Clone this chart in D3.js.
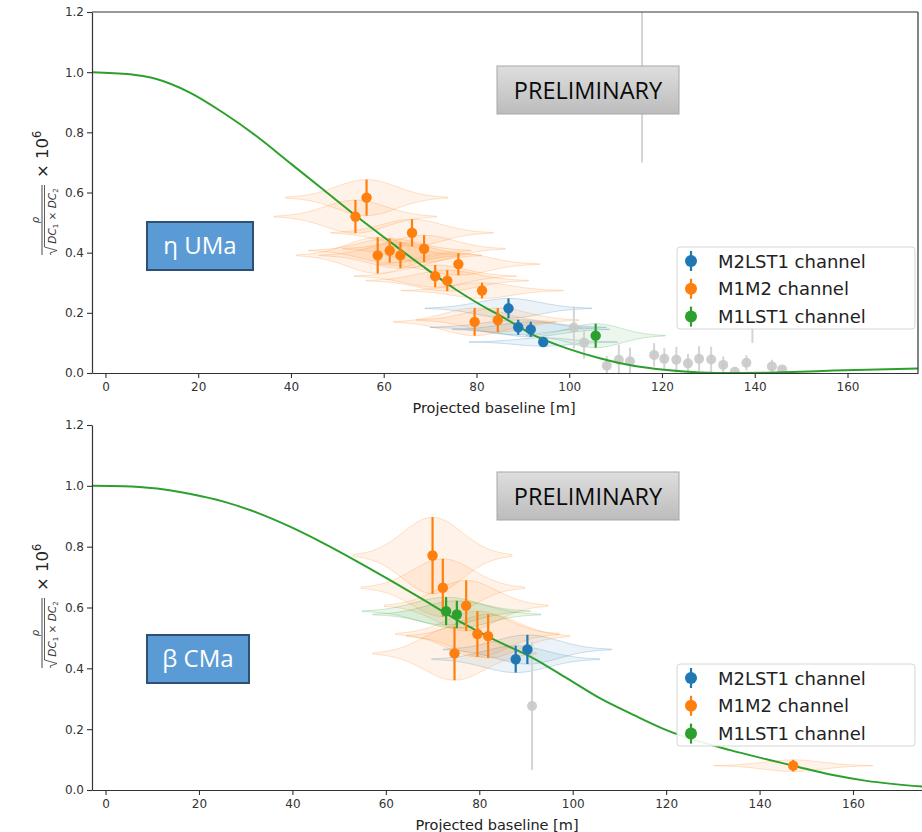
<!DOCTYPE html>
<html>
<head>
<meta charset="utf-8">
<script src="https://cdn.jsdelivr.net/npm/d3@7"></script>
<style>
  body { margin: 0; background: #fff; }
  svg text { font-family: "DejaVu Sans", sans-serif; }
</style>
</head>
<body>
<svg id="chart" width="922" height="832"></svg>
<script>
// ---- data ----
const xTicks = [0, 20, 40, 60, 80, 100, 120, 140, 160];
const yTicks = [0, 0.2, 0.4, 0.6, 0.8, 1.0, 1.2];
const legendLabels = ["M2LST1 channel", "M1M2 channel", "M1LST1 channel"];
const starNames = ["η UMa", "β CMa"];

// [baseline m, value, error, half span of the baseline band]
const etaM2LST1 = [[86.9, 0.215, 0.033, 18], [89.0, 0.152, 0.025, 19], [91.7, 0.145, 0.025, 17], [94.4, 0.103, 0.014, 16]];
const etaM1M2 = [
  [53.9, 0.520, 0.055, 17.5], [56.3, 0.583, 0.060, 17.5], [58.7, 0.391, 0.060, 17.5],
  [61.3, 0.407, 0.040, 17.5], [63.6, 0.391, 0.043, 17.5], [66.1, 0.466, 0.045, 17.5],
  [68.7, 0.413, 0.045, 17.5], [71.1, 0.322, 0.037, 17.5], [73.7, 0.307, 0.035, 17.5],
  [76.1, 0.362, 0.037, 17.5], [79.6, 0.170, 0.046, 17.5], [81.2, 0.274, 0.026, 17.5],
  [84.6, 0.176, 0.040, 17.5]
];
const etaM1LST1 = [[105.7, 0.124, 0.040, 15]];
// rejected points (grey), no band
const etaRejected = [
  [101.0, 0.151, 0.070], [103.2, 0.101, 0.053], [108.1, 0.024, 0.033], [110.7, 0.044, 0.050],
  [113.1, 0.039, 0.045], [115.7, 1.500, 0.800], [118.3, 0.060, 0.039], [120.5, 0.047, 0.036],
  [123.1, 0.044, 0.043], [125.6, 0.032, 0.031], [128.0, 0.047, 0.042], [130.6, 0.045, 0.042],
  [133.2, 0.027, 0.028], [135.7, 0.004, 0.013], [138.2, 0.034, 0.025], [139.5, 0.200, 0.100],
  [143.7, 0.022, 0.022], [145.9, 0.012, 0.012]
];
const etaFit = [
  [-2.9, 1.0], [5.3, 0.993], [11, 0.977], [18.2, 0.932], [25.4, 0.865], [32.6, 0.787],
  [39.8, 0.698], [47, 0.609], [54.2, 0.52], [61.3, 0.437], [68.5, 0.354], [75.7, 0.276],
  [82.9, 0.209], [85.1, 0.191], [92.3, 0.126], [99.5, 0.082], [106.6, 0.049], [113.8, 0.024],
  [121, 0.010], [128.2, 0.002], [135.4, 0.0], [142.6, 0.001], [149.8, 0.004], [157, 0.008],
  [164.1, 0.011], [175.2, 0.015]
];

const betaM2LST1 = [[87.8, 0.430, 0.044, 18], [90.3, 0.462, 0.048, 18]];
const betaM1M2 = [
  [70.0, 0.771, 0.126, 17], [72.2, 0.665, 0.095, 17.5], [74.7, 0.449, 0.088, 17.5],
  [77.2, 0.606, 0.083, 17.5], [79.6, 0.513, 0.075, 17.5], [81.9, 0.506, 0.072, 17.5],
  [147.2, 0.080, 0.019, 17]
];
const betaM1LST1 = [[72.9, 0.588, 0.046, 18], [75.2, 0.577, 0.045, 18]];
const betaRejected = [[91.3, 0.276, 0.210]];
const betaFit = [
  [-2.9, 1.0], [3.9, 0.999], [11, 0.991], [18.2, 0.973], [25.3, 0.948], [32.4, 0.912],
  [39.6, 0.865], [46.7, 0.811], [53.8, 0.752], [60.9, 0.690], [68.1, 0.625], [75.2, 0.559],
  [82.3, 0.501], [91.6, 0.433], [98.8, 0.367], [105.9, 0.301], [113, 0.247], [120.2, 0.196],
  [133.7, 0.131], [141.5, 0.101], [147.2, 0.080], [155.7, 0.049], [162.9, 0.030], [175.2, 0.011]
];

const colors = { blue: "#1f77b4", orange: "#ff7f0e", green: "#2ca02c", grey: "#c9c9c9" };

const svg = d3.select("#chart");

// gradient for the PRELIMINARY stamp
const defs = svg.append("defs");
const grad = defs.append("linearGradient").attr("id", "prelim").attr("x1", 0).attr("y1", 0).attr("x2", 0).attr("y2", 1);
grad.append("stop").attr("offset", "0%").attr("stop-color", "#dedede");
grad.append("stop").attr("offset", "100%").attr("stop-color", "#bcbcbc");

function drawPanel(p) {
  const x = d3.scaleLinear().domain([-2.9, 175.2]).range([92, p.right]);
  const y = d3.scaleLinear().domain([0, 1.2]).range([p.bottom, p.top]);
  const g = svg.append("g");

  defs.append("clipPath").attr("id", "clip" + p.id)
    .append("rect").attr("x", 92).attr("y", p.top).attr("width", p.right - 92).attr("height", p.bottom - p.top);
  const plot = g.append("g").attr("clip-path", "url(#clip" + p.id + ")");

  // baseline bands (lens shaped, thickness = error at the middle)
  const prof = d3.range(-1, 1.0001, 0.04);
  const band = (d) => d3.area()
    .x(t => x(d[0] + t * d[3]))
    .y0(t => y(d[1] - d[2] * Math.exp(-Math.pow(t * 1.9, 2))))
    .y1(t => y(d[1] + d[2] * Math.exp(-Math.pow(t * 1.9, 2))))
    .curve(d3.curveBasis)(prof);

  p.series.forEach(s => {
    plot.append("g").selectAll("path").data(s.data).join("path")
      .attr("d", band)
      .attr("fill", s.color).attr("fill-opacity", 0.09)
      .attr("stroke", s.color).attr("stroke-opacity", 0.22).attr("stroke-width", 1);
  });

  // rejected points
  const rej = plot.append("g");
  rej.selectAll("line").data(p.rejected).join("line")
    .attr("x1", d => x(d[0])).attr("x2", d => x(d[0]))
    .attr("y1", d => y(d[1] - d[2])).attr("y2", d => y(d[1] + d[2]))
    .attr("stroke", "#d4d4d4").attr("stroke-width", 2);
  rej.selectAll("circle").data(p.rejected).join("circle")
    .attr("cx", d => x(d[0])).attr("cy", d => y(d[1])).attr("r", 5)
    .attr("fill", colors.grey).attr("fill-opacity", 0.9);

  // fitted visibility curve
  plot.append("path").datum(p.fit)
    .attr("d", d3.line().x(d => x(d[0])).y(d => y(d[1])).curve(d3.curveMonotoneX))
    .attr("fill", "none").attr("stroke", colors.green).attr("stroke-width", 2);

  // measured points with error bars
  p.series.forEach(s => {
    const sg = plot.append("g");
    sg.selectAll("line").data(s.data).join("line")
      .attr("x1", d => x(d[0])).attr("x2", d => x(d[0]))
      .attr("y1", d => y(d[1] - d[2])).attr("y2", d => y(d[1] + d[2]))
      .attr("stroke", s.color).attr("stroke-width", 2.2);
    sg.selectAll("circle").data(s.data).join("circle")
      .attr("cx", d => x(d[0])).attr("cy", d => y(d[1])).attr("r", 5.2)
      .attr("fill", s.color);
  });

  // axes
  const xa = g.append("g").attr("transform", "translate(0," + p.bottom + ")")
    .call(d3.axisBottom(x).tickValues(xTicks).tickSize(5).tickSizeOuter(0).tickPadding(4));
  const ya = g.append("g").attr("transform", "translate(92,0)")
    .call(d3.axisLeft(y).tickValues(yTicks).tickFormat(d3.format(".1f")).tickSize(5).tickSizeOuter(0).tickPadding(3));
  [xa, ya].forEach(a => {
    a.selectAll("path.domain").attr("stroke", "#333").attr("stroke-width", 1.2);
    a.selectAll(".tick line").attr("stroke", "#333").attr("stroke-width", 1.1);
    a.selectAll(".tick text").attr("fill", "#333").style("font-size", "12px").style("font-family", "DejaVu Sans");
  });
  if (p.frame) {
    g.append("line").attr("x1", 92).attr("x2", p.right).attr("y1", p.top).attr("y2", p.top).attr("stroke", "#333").attr("stroke-width", 1.2);
    g.append("line").attr("x1", p.right).attr("x2", p.right).attr("y1", p.top).attr("y2", p.bottom).attr("stroke", "#333").attr("stroke-width", 1.2);
  }

  g.append("text").attr("x", p.xLabelX).attr("y", p.bottom + 40)
    .attr("text-anchor", "middle").attr("fill", "#222").style("font-size", "14.5px")
    .text("Projected baseline [m]");

  // y label: rho / sqrt(DC1 x DC2) x 10^6
  const yl = g.append("g").attr("transform", "translate(42," + p.labelY + ") rotate(-90)");
  yl.append("line").attr("x1", -35).attr("x2", 35).attr("y1", 0).attr("y2", 0).attr("stroke", "#333").attr("stroke-width", 0.9);
  yl.append("text").attr("x", 0).attr("y", -3).attr("text-anchor", "middle")
    .attr("fill", "#333").style("font-size", "10px").style("font-style", "italic").text("ρ");
  yl.append("path").attr("d", "M-35,9 L-33,8 L-30.5,15 L-27,2.5 L35,2.5")
    .attr("fill", "none").attr("stroke", "#333").attr("stroke-width", 0.8);
  const den = yl.append("text").attr("x", 4).attr("y", 13.5).attr("text-anchor", "middle")
    .attr("fill", "#333").style("font-size", "10.5px");
  den.append("tspan").style("font-style", "italic").text("DC");
  den.append("tspan").style("font-size", "7px").attr("dy", 2).text("1");
  den.append("tspan").attr("dy", -2).text(" × ");
  den.append("tspan").style("font-style", "italic").text("DC");
  den.append("tspan").style("font-size", "7px").attr("dy", 2).text("2");
  const mult = yl.append("text").attr("x", 42).attr("y", 6).attr("fill", "#222").style("font-size", "16.5px");
  mult.append("tspan").text("× 10");
  mult.append("tspan").attr("dy", -7).style("font-size", "11.5px").text("6");

  // star name box
  g.append("rect").attr("x", 147).attr("y", p.nameY).attr("width", p.nameW).attr("height", 48)
    .attr("fill", "#5b9bd5").attr("stroke", "#2f4f75").attr("stroke-width", 2);
  g.append("text").attr("x", 147 + p.nameW / 2).attr("y", p.nameY + 32).attr("text-anchor", "middle")
    .attr("fill", "#fff").style("font-family", "Open Sans").style("font-size", "24px").text(p.name);

  // PRELIMINARY stamp
  g.append("rect").attr("x", 497).attr("y", p.prelimY).attr("width", 182).attr("height", 48)
    .attr("fill", "url(#prelim)").attr("stroke", "#a8a8a8").attr("stroke-width", 1);
  g.append("text").attr("x", 588).attr("y", p.prelimY + 32.5).attr("text-anchor", "middle")
    .attr("fill", "#0a0a0a").style("font-family", "Open Sans").style("font-size", "23.5px").text("PRELIMINARY");

  // legend
  const lg = g.append("g").attr("transform", "translate(677," + p.legendY + ")");
  lg.append("rect").attr("width", 238).attr("height", 82).attr("rx", 3)
    .attr("fill", "#fff").attr("fill-opacity", 0.9).attr("stroke", "#d6d6d6");
  const lcol = [colors.blue, colors.orange, colors.green];
  legendLabels.forEach((lab, i) => {
    const cy = 14 + i * 27.8;
    lg.append("line").attr("x1", 14).attr("x2", 14).attr("y1", cy - 10).attr("y2", cy + 10)
      .attr("stroke", lcol[i]).attr("stroke-width", 2.2);
    lg.append("circle").attr("cx", 14).attr("cy", cy).attr("r", 6).attr("fill", lcol[i]);
    lg.append("text").attr("x", 41).attr("y", cy + 6.5).attr("fill", "#222").style("font-size", "18px").text(lab);
  });
}

drawPanel({
  id: "eta", top: 12, bottom: 373, right: 918, frame: true, xLabelX: 494, labelY: 220,
  series: [
    { data: etaM2LST1, color: colors.blue },
    { data: etaM1M2, color: colors.orange },
    { data: etaM1LST1, color: colors.green }
  ],
  rejected: etaRejected, fit: etaFit,
  name: starNames[0], nameY: 222, nameW: 106, prelimY: 66, legendY: 247
});

drawPanel({
  id: "beta", top: 425, bottom: 790, right: 924, frame: false, xLabelX: 497, labelY: 633,
  series: [
    { data: betaM2LST1, color: colors.blue },
    { data: betaM1M2, color: colors.orange },
    { data: betaM1LST1, color: colors.green }
  ],
  rejected: betaRejected, fit: betaFit,
  name: starNames[1], nameY: 635, nameW: 102, prelimY: 472, legendY: 664
});
</script>
</body>
</html>
